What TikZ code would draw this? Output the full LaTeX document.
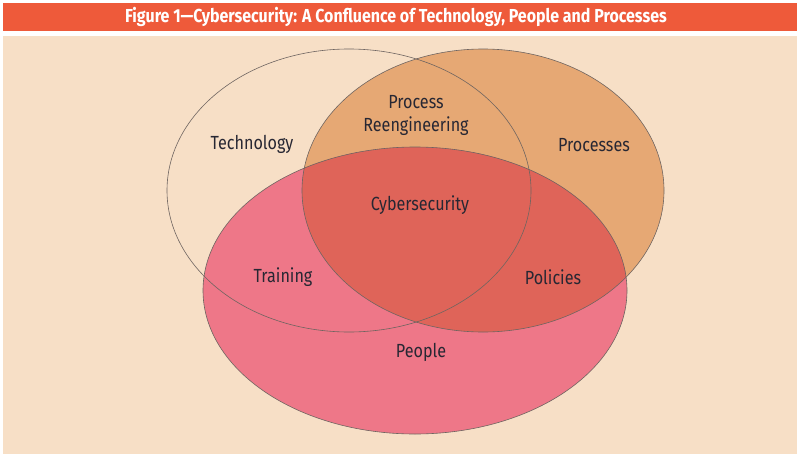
\documentclass[tikz,border=0pt]{standalone}
\usepackage{fontspec}
\setmainfont{Fira Sans}[FakeStretch=0.85]
\definecolor{titlered}{HTML}{EE5A3A}
\definecolor{peach}{HTML}{F7DFC6}
\definecolor{procfill}{HTML}{E6A874}
\definecolor{peoplefill}{HTML}{EE7788}
\definecolor{corefill}{HTML}{DF6459}
\definecolor{ringgray}{HTML}{6E6460}
\definecolor{labeltext}{HTML}{272733}
\begin{document}
\begin{tikzpicture}[x=1pt,y=-1pt]
\tikzstyle{ring}= [draw=ringgray,line width=0.6pt]
\tikzstyle{lbl}= [text=labeltext,font=\fontsize{19}{23}\selectfont,align=center,inner sep=0pt]
\tikzstyle{head}= [text=white,font=\bfseries\fontsize{18.8}{20}\selectfont,inner sep=0pt]
\def\techset{(349,190.5) ellipse [x radius=182,y radius=141.5]}
\def\procset{(483,190.5) ellipse [x radius=181,y radius=141.5]}
\def\peopleset{(415,290.5) ellipse [x radius=212,y radius=143.5]}
% frame and title bar
\fill[white] (0,0) rectangle (800,458);
\fill[titlered] (3,3) rectangle (797,31);
\fill[peach] (3,36) rectangle (797,454);
% the three sets
\fill[procfill] \procset;
\fill[peoplefill] \peopleset;
\begin{scope}
\clip \procset;
\fill[corefill] \peopleset;
\end{scope}
\draw[ring] \techset;
\draw[ring] \procset;
\draw[ring] \peopleset;
\path
	(396,17) node[head] (title) {Figure 1---Cybersecurity: A Confluence of Technology, People and Processes}
	(252,144) node[lbl] (tech) {Technology}
	(416,115.5) node[lbl] (reeng) {Process\\Reengineering}
	(594,145) node[lbl] (proc) {Processes}
	(420,205) node[lbl] (cyber) {Cybersecurity}
	(283,277) node[lbl] (train) {Training}
	(553,277) node[lbl] (policy) {Policies}
	(421,352) node[lbl] (people) {People}
;
\end{tikzpicture}
\end{document}
